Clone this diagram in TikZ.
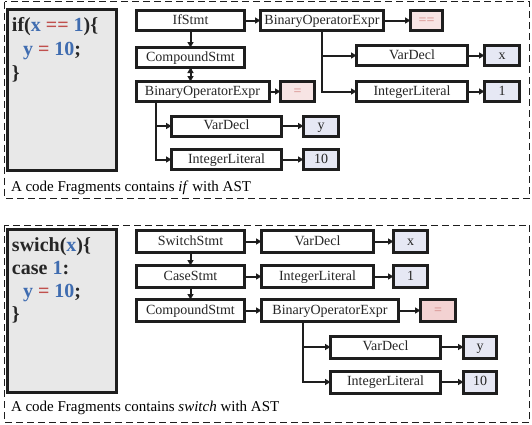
\documentclass[tikz,border=0pt]{standalone}
\usepackage{fontspec}
\setmainfont{Liberation Serif}
\usetikzlibrary{positioning,arrows.meta}
\definecolor{codeblue}{HTML}{3F6CB0}
\definecolor{codered}{HTML}{C0504D}
\definecolor{codegray}{HTML}{E8E8E8}
\definecolor{leafblue}{HTML}{E6E8F4}
\definecolor{leafred}{HTML}{F7E4E4}
\definecolor{leafredB}{HTML}{F3D2D2}
\definecolor{ink}{HTML}{1E1E1E}

\begin{document}
\begin{tikzpicture}
[x=1pt,y=-1pt,
 every node/.style={inner sep=0pt,outer sep=0pt},
 ast/.style={rectangle,draw=ink,line width=3pt,fill=white,minimum height=20pt,text=black!85,
             font=\fontsize{14}{16}\selectfont,text height=10pt,text depth=3pt},
 leafb/.style={ast,fill=leafblue},
 leafr/.style={ast,fill=leafred,text=codered!70},
 codebox/.style={rectangle,draw=ink,line width=2.6pt,fill=codegray},
 code/.style={anchor=base west,font=\fontsize{20}{24}\selectfont\bfseries,text=black!85},
 captext/.style={anchor=base west,font=\fontsize{15}{18}\selectfont},
 arr/.style={draw=ink,line width=2pt,-{Triangle[length=5.5pt,width=6pt]}},
 panel/.style={draw=ink,line width=0.9pt,dash pattern=on 7pt off 4pt}]
\useasboundingbox (0,0) rectangle (532,424);

% --- panel with if ---
\draw[panel] (4.5,1.5) rectangle (529.5,198);
\node[codebox,minimum width=109.4pt,minimum height=161.4pt] (codeA) at (62,90) {};
\node[code] (codeA1) at (12,31) {if(\textcolor{codeblue}{x} \textcolor{codered}{==} \textcolor{codeblue}{1})\{};
\node[code] (codeA2) at (23,55) {\textcolor{codeblue}{y} \textcolor{codered}{=} \textcolor{codeblue}{10};};
\node[code] (codeA3) at (12,79) {\}};
\node[captext] (capA) at (11,191) {A code Fragments contains \textit{if} with AST};

\node[ast,minimum width=108pt] (ifS) at (190.5,20.5) {IfStmt};
\node[ast,minimum width=123pt] (binT) [on grid,right=131.5pt of ifS] {BinaryOperatorExpr};
\node[leafr,minimum width=32pt] (eqT) [on grid,right=104.5pt of binT] {==};
\node[ast,minimum width=108pt] (cmpT) [on grid,below=37pt of ifS] {CompoundStmt};
\node[ast,minimum width=133pt] (binL) [on grid,below right=34pt and 12pt of cmpT] {BinaryOperatorExpr};
\node[leafr,minimum width=34pt] (asgT) [on grid,right=95pt of binL] {=};
\node[ast,minimum width=111pt] (varX) [on grid,below right=35pt and 90pt of binT] {VarDecl};
\node[leafb,minimum width=35pt] (xT) [on grid,right=90pt of varX] {x};
\node[ast,minimum width=111pt] (intX) [on grid,below=36pt of varX] {IntegerLiteral};
\node[leafb,minimum width=35pt] (oneT) [on grid,right=90pt of intX] {1};
\node[ast,minimum width=110pt] (varY) [on grid,below right=34.5pt and 24pt of binL] {VarDecl};
\node[leafb,minimum width=35pt] (yT) [on grid,right=94.5pt of varY] {y};
\node[ast,minimum width=110pt] (int10) [on grid,below=33.5pt of varY] {IntegerLiteral};
\node[leafb,minimum width=35pt] (tenT) [on grid,right=94.5pt of int10] {10};

\path[arr] (ifS) edge (binT);
\path[arr] (binT) edge (eqT);
\path[arr] (ifS) edge (cmpT);
\path[arr] (cmpT.south) edge (cmpT.south |- binL.north);
\path[arr] (binL) edge (asgT);
\draw[arr] (binT.south) |- (varX.west);
\draw[arr] (binT.south) |- (intX.west);
\path[arr] (varX) edge (xT);
\path[arr] (intX) edge (oneT);
\draw[arr] ([xshift=20pt]binL.south west) |- (varY.west);
\draw[arr] ([xshift=20pt]binL.south west) |- (int10.west);
\path[arr] (varY) edge (yT);
\path[arr] (int10) edge (tenT);

% --- panel with switch ---
\draw[panel] (4.5,225) rectangle (529.5,422.5);
\node[codebox,minimum width=109.4pt,minimum height=163.4pt] (codeB) at (62,311) {};
\node[code] (codeB1) at (12,251) {swich(\textcolor{codeblue}{x})\{};
\node[code] (codeB2) at (12,274) {case \textcolor{codeblue}{1}:};
\node[code] (codeB3) at (23,297) {\textcolor{codeblue}{y} \textcolor{codered}{=} \textcolor{codeblue}{10};};
\node[code] (codeB4) at (12,320) {\}};
\node[captext] (capB) at (11,411) {A code Fragments contains \textit{switch} with AST};

\node[ast,minimum width=108pt,minimum height=22pt] (swS) at (190.5,241.5) {SwitchStmt};
\node[ast,minimum width=108pt,minimum height=22pt] (caseS) [on grid,below=35pt of swS] {CaseStmt};
\node[ast,minimum width=108pt,minimum height=22pt] (cmpB) [on grid,below=34pt of caseS] {CompoundStmt};
\node[ast,minimum width=112pt,minimum height=22pt] (varXB) [on grid,right=127pt of swS] {VarDecl};
\node[leafb,minimum width=34pt,minimum height=22pt] (xB) [on grid,right=93pt of varXB] {x};
\node[ast,minimum width=112pt,minimum height=22pt] (intB) [on grid,right=127pt of caseS] {IntegerLiteral};
\node[leafb,minimum width=34pt,minimum height=22pt] (oneB) [on grid,right=93pt of intB] {1};
\node[ast,minimum width=137pt,minimum height=22pt] (binB) [on grid,right=139.5pt of cmpB] {BinaryOperatorExpr};
\node[leafr,fill=leafredB,minimum width=35pt,minimum height=22pt] (asgB) [on grid,right=108pt of binB] {=};
\node[ast,minimum width=110pt,minimum height=22pt] (varYB) [on grid,below right=36.5pt and 55.5pt of binB] {VarDecl};
\node[leafb,minimum width=33pt,minimum height=22pt] (yB) [on grid,right=94.5pt of varYB] {y};
\node[ast,minimum width=110pt,minimum height=22pt] (int10B) [on grid,below=35pt of varYB] {IntegerLiteral};
\node[leafb,minimum width=33pt,minimum height=22pt] (tenB) [on grid,right=94.5pt of int10B] {10};

\path[arr] (swS) edge (caseS);
\path[arr] (caseS) edge (cmpB);
\path[arr] (swS) edge (varXB);
\path[arr] (caseS) edge (intB);
\path[arr] (cmpB) edge (binB);
\path[arr] (varXB) edge (xB);
\path[arr] (intB) edge (oneB);
\path[arr] (binB) edge (asgB);
\draw[arr] ([xshift=41pt]binB.south west) |- (varYB.west);
\draw[arr] ([xshift=41pt]binB.south west) |- (int10B.west);
\path[arr] (varYB) edge (yB);
\path[arr] (int10B) edge (tenB);
\end{tikzpicture}
\end{document}
